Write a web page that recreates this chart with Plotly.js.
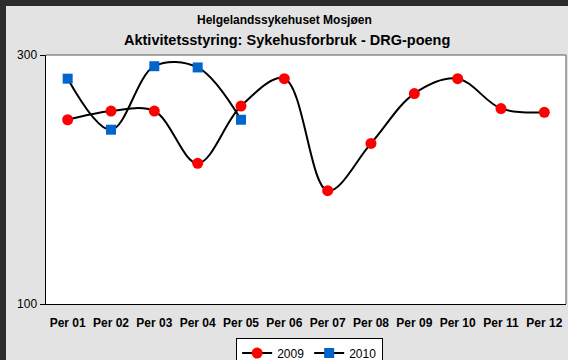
<!DOCTYPE html>
<html>
<head>
<meta charset="utf-8">
<script src="https://cdn.plot.ly/plotly-3.0.1.min.js"></script>
<style>
html,body{margin:0;padding:0;background:#2b2b2b;width:568px;height:360px;overflow:hidden;}
#chart{position:absolute;left:6px;top:6px;width:562px;height:354px;}
</style>
</head>
<body>
<div id="chart"></div>
<script>
var categories = ["Per 01","Per 02","Per 03","Per 04","Per 05","Per 06","Per 07","Per 08","Per 09","Per 10","Per 11","Per 12"];
var values2009 = [248, 255, 255, 213, 259, 281, 191, 229, 269, 281, 257, 254];
var values2010 = [281, 240, 291, 290, 248];
var categories2010 = categories.slice(0, values2010.length);
var yTicks = [100, 300];

var font = "Liberation Sans, Arial, sans-serif";

var traces = [
  {
    x: categories, y: values2009, name: "2009", type: "scatter", mode: "lines+markers",
    line: {color: "#000000", width: 2, shape: "spline", smoothing: 1},
    marker: {color: "#ff0000", size: 11, symbol: "circle"}
  },
  {
    x: categories2010, y: values2010, name: "2010", type: "scatter", mode: "lines+markers",
    line: {color: "#000000", width: 2, shape: "spline", smoothing: 1},
    marker: {color: "#0066cc", size: 10, symbol: "square"}
  }
];

var layout = {
  width: 562, height: 354,
  margin: {l: 40, r: 2, t: 49, b: 56, autoexpand: false},
  paper_bgcolor: "#e3e3e3",
  plot_bgcolor: "#ffffff",
  font: {family: font, size: 11, color: "#000"},
  showlegend: true,
  legend: {
    orientation: "h", x: 0.507, xanchor: "center", y: -0.135, yanchor: "top",
    bgcolor: "#ffffff", bordercolor: "#000000", borderwidth: 1,
    font: {family: font, size: 12, color: "#000"},
    itemwidth: 30, tracegroupgap: 0
  },
  xaxis: {
    type: "category", categoryorder: "array", categoryarray: categories,
    range: [-0.5, 11.5], showline: true, linecolor: "#000", linewidth: 1,
    ticks: "", showgrid: false, zeroline: false, ticklabelstandoff: 8,
    tickfont: {family: font, size: 12, color: "#000", weight: "bold"}
  },
  yaxis: {
    range: [100, 300], tickvals: yTicks, ticktext: yTicks.map(String),
    showline: true, linecolor: "#000", linewidth: 1.5,
    ticks: "outside", ticklen: 5, tickcolor: "#000", tickwidth: 1,
    showgrid: false, zeroline: false,
    tickfont: {family: font, size: 12, color: "#000"}
  },
  shapes: [
    {type: "line", xref: "paper", yref: "paper", x0: 0, x1: 1, y0: 1, y1: 1, line: {color: "#8a8a8a", width: 1.5}},
    {type: "line", xref: "paper", yref: "paper", x0: 1, x1: 1, y0: 0, y1: 1, line: {color: "#8a8a8a", width: 1.5}}
  ],
  annotations: [
    {text: "<b>Helgelandssykehuset Mosjøen</b>", xref: "paper", yref: "paper",
     x: 0.4577, y: 1, yshift: 35, xanchor: "center", yanchor: "middle", showarrow: false,
     font: {family: font, size: 12, color: "#000"}},
    {text: "<b>Aktivitetsstyring: Sykehusforbruk - DRG-poeng</b>", xref: "paper", yref: "paper",
     x: 0.4635, y: 1, yshift: 15, xanchor: "center", yanchor: "middle", showarrow: false,
     font: {family: font, size: 14.5, color: "#000"}}
  ]
};

Plotly.newPlot("chart", traces, layout, {displayModeBar: false, staticPlot: true});
</script>
</body>
</html>
